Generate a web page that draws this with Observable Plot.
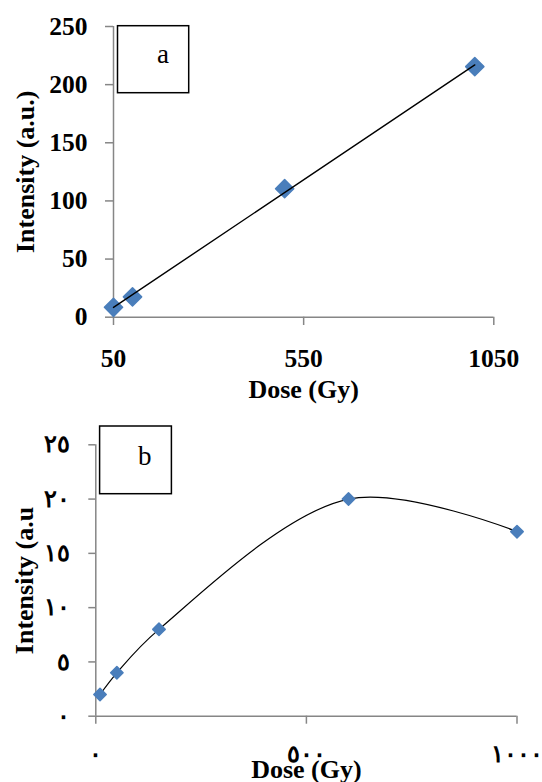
<!DOCTYPE html>
<html>
<head>
<meta charset="utf-8">
<script src="https://cdn.jsdelivr.net/npm/d3@7"></script>
<script src="https://cdn.jsdelivr.net/npm/@observablehq/plot@0.6"></script>
<style>
  body { margin: 0; background: #fff; }
  #wrap { position: relative; width: 542px; height: 782px; overflow: hidden; background: #fff; }
  #wrap svg { position: absolute; left: 0; overflow: visible; }
  #wrap svg text { font-family: 'Liberation Serif', 'Times New Roman', 'DejaVu Serif', serif; }
</style>
</head>
<body>
<div id="wrap"></div>
<script>
// ---- Panel a data ----
const doseA = [50, 100, 500, 1000];
const intensityA = [8.5, 17.5, 110.5, 215.5];
const xTicksA = [50, 550, 1050];
const yTicksA = [0, 50, 100, 150, 200, 250];

// ---- Panel b data ----
const doseB = [10, 50, 150, 600, 1000];
const intensityB = [2, 4, 8, 20, 17];
const xTicksB = [0, 500, 1000];
const xTickLabelsB = ["٠", "٥٠٠", "١٠٠٠"];
const yTicksB = [0, 5, 10, 15, 20, 25];
const yTickLabelsB = ["٠", "٥", "١٠", "١٥", "٢٠", "٢٥"];

// ---- Texts ----
const xTitle = "Dose (Gy)";
const yTitleA = "Intensity (a.u.)";
const yTitleB = "Intensity (a.u";
const panelLabels = ["a", "b"];

const GRAY = "#868686";
const BLUE = "#4A7EBB";
const SERIF = "Liberation Serif";

const dataA = doseA.map((d, i) => ({dose: d, intensity: intensityA[i]}));
const dataB = doseB.map((d, i) => ({dose: d, intensity: intensityB[i]}));

// Label box drawn relative to the plot frame
function labelBox(label, offX, offY, w, h, textX, textY) {
  return (index, scales, values, dims) => {
    const g = d3.create("svg:g");
    g.append("rect")
      .attr("x", dims.marginLeft + offX)
      .attr("y", dims.marginTop + offY)
      .attr("width", w)
      .attr("height", h)
      .attr("fill", "white")
      .attr("stroke", "black")
      .attr("stroke-width", 1.5);
    g.append("text")
      .attr("x", dims.marginLeft + textX)
      .attr("y", dims.marginTop + textY)
      .attr("text-anchor", "middle")
      .attr("font-size", 27)
      .attr("font-weight", "normal")
      .attr("fill", "black")
      .text(label);
    return g.node();
  };
}

const tickText = {fill: "black", fontSize: 25.5, fontWeight: "bold", fontFamily: SERIF};
const titleText = {fill: "black", fontSize: 26, fontWeight: "bold", fontFamily: SERIF};

const plotA = Plot.plot({
  width: 542,
  height: 410,
  marginTop: 26,
  marginBottom: 93.3,
  marginLeft: 113,
  marginRight: 48.7,
  style: {background: "transparent", overflow: "visible"},
  x: {domain: [50, 1050], label: null},
  y: {domain: [0, 250], label: null},
  marks: [
    Plot.ruleY([0], {stroke: GRAY, strokeWidth: 1.5}),
    Plot.ruleX([50], {stroke: GRAY, strokeWidth: 1.5}),
    Plot.axisY(yTicksA, {tickSize: 8, tickPadding: 18, stroke: GRAY, strokeWidth: 1.5, label: null, tickFormat: d => String(d), ...tickText}),
    Plot.axisX(xTicksA, {tickSize: 8.3, tickPadding: 23.5, stroke: GRAY, strokeWidth: 1.5, label: null, tickFormat: d => String(d), ...tickText}),
    labelBox(panelLabels[0], 4.5, -0.3, 71.2, 67, 50, 37.3),
    Plot.dot(dataA, {x: "dose", y: "intensity", symbol: "diamond2", r: 8.2, fill: BLUE, stroke: BLUE, strokeWidth: 1.5, strokeLinejoin: "round"}),
    Plot.linearRegressionY(dataA, {x: "dose", y: "intensity", ci: 0, stroke: "black", strokeWidth: 1.4}),
    Plot.text([yTitleA], {frameAnchor: "left", textAnchor: "middle", lineAnchor: "middle", dx: -88, rotate: -90, ...titleText}),
    Plot.text([xTitle], {frameAnchor: "bottom", textAnchor: "middle", lineAnchor: "middle", dy: 72.3, ...titleText})
  ]
});

const plotB = Plot.plot({
  width: 542,
  height: 382,
  marginTop: 44.3,
  marginBottom: 66.3,
  marginLeft: 95.3,
  marginRight: 25.5,
  style: {background: "transparent", overflow: "visible"},
  x: {domain: [0, 1000], label: null},
  y: {domain: [0, 25], label: null},
  marks: [
    Plot.ruleY([0], {stroke: GRAY, strokeWidth: 1.5}),
    Plot.ruleX([0], {stroke: GRAY, strokeWidth: 1.5}),
    Plot.axisY(yTicksB, {tickSize: 7, tickPadding: 19, stroke: GRAY, strokeWidth: 1.5, label: null,
      tickFormat: d => yTickLabelsB[yTicksB.indexOf(d)], ...tickText, fontSize: 24}),
    Plot.axisX(xTicksB, {tickSize: 8, tickPadding: 21, stroke: GRAY, strokeWidth: 1.5, label: null,
      tickFormat: d => xTickLabelsB[xTicksB.indexOf(d)], ...tickText, fontSize: 24}),
    labelBox(panelLabels[1], 4.3, -18.3, 71.8, 67.7, 49.5, 20.7),
    Plot.line(dataB, {x: "dose", y: "intensity", curve: "catmull-rom", stroke: "black", strokeWidth: 1.2}),
    Plot.dot(dataB, {x: "dose", y: "intensity", symbol: "diamond2", r: 5.6, fill: BLUE, stroke: BLUE, strokeWidth: 1.5, strokeLinejoin: "round"}),
    Plot.text([yTitleB], {frameAnchor: "left", textAnchor: "middle", lineAnchor: "middle", dx: -71, rotate: -90, ...titleText}),
    Plot.text([xTitle], {frameAnchor: "bottom", textAnchor: "middle", lineAnchor: "middle", dy: 53.3, ...titleText})
  ]
});

const wrap = document.getElementById("wrap");
plotA.style.top = "0px";
plotB.style.top = "400px";
wrap.appendChild(plotA);
wrap.appendChild(plotB);
</script>
</body>
</html>
